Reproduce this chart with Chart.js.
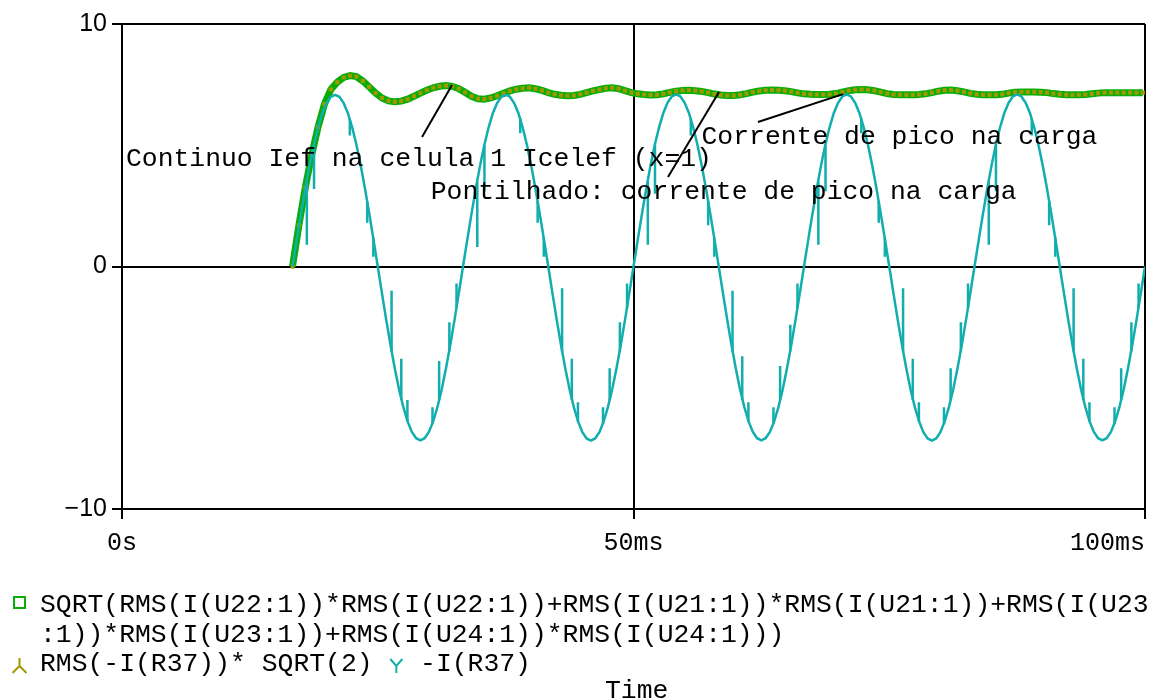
<!DOCTYPE html>
<html>
<head>
<meta charset="utf-8">
<title>RMS da corrente</title>
<script src="https://cdn.jsdelivr.net/npm/chart.js@4.4.1/dist/chart.umd.min.js"></script>
<style>
  html, body { margin: 0; padding: 0; background: #fff; }
  #plot { display: block; }
</style>
</head>
<body>
<canvas id="plot" width="1155" height="700"></canvas>
<script>
// time axis in ms
const xTicks = [0, 50, 100];
const xTickLabels = ['0s', '50ms', '100ms'];
const yTicks = [-10, 0, 10];

// -I(R37): sampled every currentStep ms from currentStart
const currentStart = 16.667;
const currentStep = 0.41667;
const currentValues = [
  0, 1.11, 2.19, 3.22, 4.17, 5.02, 5.74, 6.33, 6.75, 7.00, 7.08, 7.00, 6.74, 6.32, 5.74, 5.02, 4.17, 3.22, 2.19, 1.11,
  0, -1.12, -2.21, -3.25, -4.21, -5.07, -5.80, -6.39, -6.82, -7.08, -7.17, -7.08, -6.82, -6.39, -5.80, -5.07, -4.21, -3.25, -2.21, -1.12,
  0, 1.10, 2.18, 3.21, 4.16, 5.01, 5.73, 6.32, 6.74, 7.00, 7.09, 7.00, 6.74, 6.32, 5.73, 5.01, 4.16, 3.21, 2.18, 1.10,
  0, -1.12, -2.21, -3.25, -4.21, -5.07, -5.80, -6.39, -6.83, -7.09, -7.18, -7.09, -6.83, -6.39, -5.80, -5.07, -4.21, -3.25, -2.21, -1.12,
  0, 1.11, 2.19, 3.22, 4.17, 5.02, 5.74, 6.33, 6.76, 7.01, 7.10, 7.01, 6.75, 6.33, 5.74, 5.02, 4.17, 3.22, 2.19, 1.11,
  0, -1.12, -2.21, -3.25, -4.21, -5.07, -5.80, -6.39, -6.82, -7.08, -7.17, -7.08, -6.82, -6.39, -5.80, -5.07, -4.21, -3.25, -2.21, -1.12,
  0, 1.11, 2.19, 3.22, 4.17, 5.02, 5.74, 6.33, 6.75, 7.01, 7.10, 7.01, 6.75, 6.33, 5.74, 5.02, 4.17, 3.22, 2.19, 1.11,
  0, -1.12, -2.21, -3.25, -4.21, -5.07, -5.80, -6.39, -6.83, -7.09, -7.18, -7.09, -6.83, -6.39, -5.80, -5.07, -4.21, -3.25, -2.21, -1.12,
  0, 1.11, 2.19, 3.22, 4.17, 5.02, 5.74, 6.33, 6.75, 7.01, 7.10, 7.01, 6.75, 6.33, 5.74, 5.02, 4.17, 3.22, 2.19, 1.11,
  0, -1.12, -2.21, -3.25, -4.21, -5.07, -5.80, -6.39, -6.82, -7.08, -7.17, -7.08, -6.82, -6.39, -5.80, -5.07, -4.21, -3.25, -2.21, -1.12,
  0
];

// switching glitches on -I(R37): time, value on the curve, value at the tip
const spikeTimes = [
  18.07, 18.77, 22.27, 23.97, 24.57,
  26.35, 27.30, 27.90, 30.35, 31.00, 32.00, 32.70,
  34.73, 35.43, 38.93, 40.63, 41.23,
  43.02, 43.97, 44.57, 47.02, 47.67, 48.67, 49.37,
  51.40, 52.10, 55.60, 57.30, 57.90,
  59.68, 60.63, 61.23, 63.68, 64.33, 65.33, 66.03,
  68.07, 68.77, 72.27, 73.97, 74.57,
  76.35, 77.30, 77.90, 80.35, 81.00, 82.00, 82.70,
  84.73, 85.43, 88.93, 90.63, 91.23,
  93.02, 93.97, 94.57, 97.02, 97.67, 98.67, 99.37
];
const spikeBase = [
  3.5, 5.0, 6.1, 2.7, 1.2,
  -3.5, -5.5, -6.4, -6.5, -5.5, -3.5, -1.7,
  3.5, 5.0, 6.1, 2.7, 1.2,
  -3.5, -5.5, -6.4, -6.5, -5.5, -3.5, -1.7,
  3.5, 5.0, 6.1, 2.7, 1.2,
  -3.5, -5.5, -6.4, -6.5, -5.5, -3.5, -1.7,
  3.5, 5.0, 6.1, 2.7, 1.2,
  -3.5, -5.5, -6.4, -6.5, -5.5, -3.5, -1.7,
  3.5, 5.0, 6.1, 2.7, 1.2,
  -3.5, -5.5, -6.4, -6.5, -5.5, -3.5, -1.7
];
const spikeTip = [
  0.9, 3.2, 5.4, 1.8, 0.4,
  -1.0, -3.8, -5.5, -5.8, -3.9, -2.3, -0.7,
  0.8, 3.1, 5.5, 1.8, 0.4,
  -0.9, -3.8, -5.6, -5.8, -4.2, -2.3, -0.7,
  0.9, 3.0, 5.4, 1.7, 0.4,
  -1.0, -3.7, -5.6, -5.8, -4.1, -2.4, -0.7,
  0.9, 3.1, 5.5, 1.8, 0.4,
  -0.9, -3.8, -5.6, -5.8, -4.2, -2.3, -0.7,
  0.9, 3.1, 5.4, 1.7, 0.4,
  -0.9, -3.8, -5.6, -5.8, -4.2, -2.3, -0.7
];

// SQRT(sum of RMS^2) of the cell currents, sampled every rmsStep ms
const rmsStart = 16.667;
const rmsStep = 0.625;
const rmsValues = [
  0, 1.7, 3.25, 4.6, 5.75, 6.7, 7.3, 7.6, 7.8, 7.87,
  7.83, 7.65, 7.4, 7.15, 6.95, 6.83, 6.79, 6.82, 6.9, 7.02,
  7.15, 7.27, 7.37, 7.43, 7.46, 7.43, 7.33, 7.18, 7.02, 6.92,
  6.9, 6.95, 7.04, 7.14, 7.24, 7.31, 7.35, 7.37, 7.33, 7.26,
  7.17, 7.1, 7.06, 7.04, 7.05, 7.1, 7.17, 7.24, 7.3, 7.35,
  7.37, 7.33, 7.25, 7.17, 7.12, 7.09, 7.07, 7.08, 7.12, 7.18,
  7.23, 7.26, 7.27, 7.25, 7.22, 7.17, 7.11, 7.07, 7.05, 7.05,
  7.08, 7.13, 7.19, 7.24, 7.27, 7.28, 7.27, 7.25, 7.21, 7.16,
  7.12, 7.1, 7.09, 7.09, 7.1, 7.13, 7.19, 7.25, 7.29, 7.3,
  7.29, 7.25, 7.19, 7.13, 7.09, 7.08, 7.08, 7.08, 7.09, 7.12,
  7.17, 7.23, 7.27, 7.28, 7.25, 7.2, 7.14, 7.1, 7.08, 7.08,
  7.08, 7.1, 7.15, 7.19, 7.2, 7.2, 7.2, 7.19, 7.17, 7.13,
  7.1, 7.08, 7.08, 7.08, 7.09, 7.12, 7.15, 7.17, 7.17, 7.17,
  7.17, 7.17, 7.17, 7.17
];

// text notes on the plot: [time ms, value] of the text baseline start
const noteTexts = [
  'Continuo Ief na celula 1 Icelef (x=1)',
  'Corrente de pico na carga',
  'Pontilhado: corrente de pico na carga'
];
const noteAt = [[0.39, 4.14], [56.65, 5.05], [30.18, 2.77]];
// pointer lines: [t0, v0, t1, v1]
const noteLines = [
  [29.33, 5.34, 32.26, 7.48],
  [53.37, 3.69, 58.36, 7.20],
  [62.17, 5.96, 70.48, 7.11]
];

const GREEN = '#08ad08';
const OLIVE = '#a09a00';
const TEAL = '#12adad';
const MONO = '26.4px "Liberation Mono", "DejaVu Sans Mono", monospace';

const currentData = currentValues.map((v, i) => ({ x: currentStart + i * currentStep, y: v }));
const rmsData = rmsValues.map((v, i) => ({ x: rmsStart + i * rmsStep, y: v }));
const spikeData = [];
spikeTimes.forEach((t, i) => {
  spikeData.push({ x: t, y: spikeBase[i] }, { x: t, y: spikeTip[i] }, { x: t, y: null });
});

const overlay = {
  id: 'overlay',
  afterDatasetsDraw(chart) {
    const { ctx } = chart;
    const xs = chart.scales.x, ys = chart.scales.y;
    ctx.save();
    ctx.strokeStyle = '#000';
    ctx.lineWidth = 2;
    noteLines.forEach(l => {
      ctx.beginPath();
      ctx.moveTo(xs.getPixelForValue(l[0]), ys.getPixelForValue(l[1]));
      ctx.lineTo(xs.getPixelForValue(l[2]), ys.getPixelForValue(l[3]));
      ctx.stroke();
    });
    ctx.font = MONO;
    ctx.fillStyle = '#000';
    ctx.textBaseline = 'alphabetic';
    noteTexts.forEach((txt, i) => {
      ctx.fillText(txt, xs.getPixelForValue(noteAt[i][0]), ys.getPixelForValue(noteAt[i][1]));
    });
    ctx.restore();
  },
  afterDraw(chart) {
    const { ctx, chartArea } = chart;
    const xs = chart.scales.x;
    ctx.save();
    ctx.fillStyle = '#000';
    ctx.textBaseline = 'alphabetic';

    // time tick labels, last one kept inside the frame
    ctx.font = '25px "Liberation Mono", monospace';
    xTicks.forEach((t, i) => {
      ctx.textAlign = i === xTicks.length - 1 ? 'right' : 'center';
      ctx.fillText(xTickLabels[i], xs.getPixelForValue(t), chartArea.bottom + 41);
    });

    // trace list under the plot
    ctx.font = MONO;
    ctx.textAlign = 'left';
    const cw = ctx.measureText('M').width;
    const x0 = 40;
    ctx.fillText('SQRT(RMS(I(U22:1))*RMS(I(U22:1))+RMS(I(U21:1))*RMS(I(U21:1))+RMS(I(U23', x0, 612);
    ctx.fillText(':1))*RMS(I(U23:1))+RMS(I(U24:1))*RMS(I(U24:1)))', x0, 642);
    ctx.fillText('RMS(-I(R37))* SQRT(2)', x0, 671);
    ctx.fillText('-I(R37)', x0 + 24 * cw, 671);
    ctx.fillText('Time', 605, 698);

    ctx.lineWidth = 2;
    // square marker
    ctx.strokeStyle = GREEN;
    ctx.strokeRect(14, 597, 11, 11);
    // inverted Y marker
    ctx.strokeStyle = OLIVE;
    ctx.beginPath();
    ctx.moveTo(19.5, 658); ctx.lineTo(19.5, 666);
    ctx.moveTo(12.5, 673); ctx.lineTo(19.5, 666); ctx.lineTo(26.5, 673);
    ctx.stroke();
    // Y marker
    const yc = x0 + 22.5 * cw;
    ctx.strokeStyle = TEAL;
    ctx.beginPath();
    ctx.moveTo(yc - 6, 659); ctx.lineTo(yc, 666); ctx.lineTo(yc + 6, 659);
    ctx.moveTo(yc, 666); ctx.lineTo(yc, 673);
    ctx.stroke();
    ctx.restore();
  }
};

new Chart(document.getElementById('plot'), {
  type: 'line',
  data: {
    datasets: [
      {
        label: '-I(R37)',
        data: currentData,
        borderColor: TEAL,
        borderWidth: 2.5,
        pointRadius: 0,
        tension: 0,
        order: 1
      },
      {
        label: 'glitches',
        data: spikeData,
        borderColor: TEAL,
        borderWidth: 2.5,
        pointRadius: 0,
        spanGaps: false,
        order: 2
      },
      {
        label: 'SQRT(RMS)',
        data: rmsData,
        borderColor: GREEN,
        borderWidth: 7,
        pointStyle: 'rect',
        pointRadius: 2.9,
        pointBackgroundColor: OLIVE,
        pointBorderWidth: 0,
        tension: 0,
        order: 3
      }
    ]
  },
  options: {
    responsive: false,
    animation: false,
    devicePixelRatio: 1,
    layout: { padding: { top: 24, right: 10, left: 0, bottom: 0 } },
    plugins: {
      legend: { display: false },
      tooltip: { enabled: false }
    },
    scales: {
      x: {
        type: 'linear',
        min: 0,
        max: 100,
        afterBuildTicks: s => { s.ticks = xTicks.map(v => ({ value: v })); },
        afterFit: s => { s.height = 191; },
        ticks: { display: false },
        grid: { color: '#000', lineWidth: 2, tickLength: 10, drawTicks: true },
        border: { color: '#000', width: 2 }
      },
      y: {
        min: -10,
        max: 10,
        afterBuildTicks: s => { s.ticks = yTicks.map(v => ({ value: v })); },
        afterFit: s => { s.width = 122; },
        ticks: {
          color: '#000',
          padding: 5,
          font: { family: '"Liberation Sans", Arial, sans-serif', size: 25 },
          callback: v => (v < 0 ? '\u2212' + Math.abs(v) : String(v))
        },
        grid: { color: '#000', lineWidth: 2, tickLength: 10, drawTicks: true },
        border: { color: '#000', width: 2 }
      }
    }
  },
  plugins: [overlay]
});
</script>
</body>
</html>
